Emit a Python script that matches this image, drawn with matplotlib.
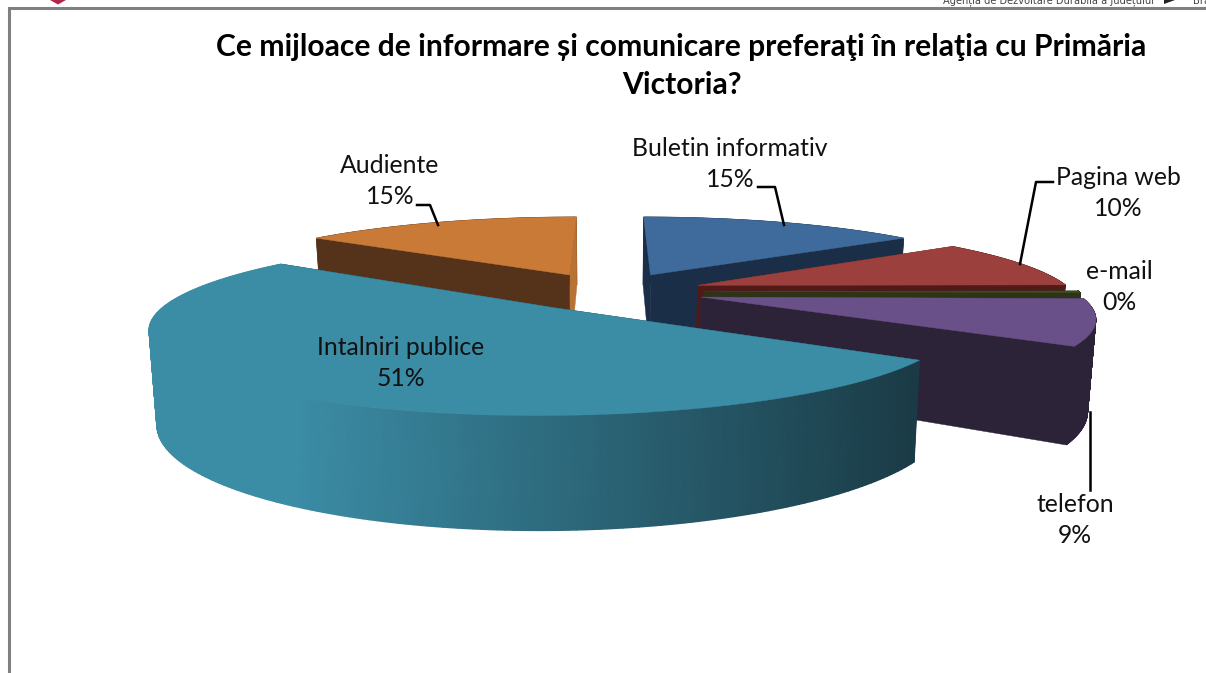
import numpy as np
import matplotlib
matplotlib.use('Agg')
import matplotlib.pyplot as plt
from matplotlib.colors import LinearSegmentedColormap

plt.rcParams['font.family'] = ['Lato', 'DejaVu Sans']

title = 'Ce mijloace de informare și comunicare preferaţi în relaţia cu Primăria\nVictoria?'
categories = ['Buletin informativ', 'Pagina web', 'e-mail', 'telefon', 'Intalniri publice', 'Audiente']
values = [15, 10, 0.4, 9, 51, 15]

top_colors = ['#3F6B9C', '#9C403E', '#3F4A22', '#6A5088', '#3B8CA5', '#C97A37']
wall_colors = ['#1B2E47', '#501A18', '#2C3316', '#2D2339', '#1B3B46', '#55331A']
end_wall_colors = ['#1B2E47', '#501A18', '#2C3316', '#2D2339', '#1B3B46', '#B87233']

# label centres in pixels
label_pos = [(730, 164), (1118, 193), (1119, 287), (1075, 520), (401, 363), (390, 181)]

# perspective of the 3d pie, fitted on the picture
vanish_x = 610
horizon_y = -68
plane_h = 1685
plane_d = 4.69
scale_x = 1.043
explode = 0.25
wall_h = 0.238
wall_shrink = 0.983


def project(px, py, bottom=False):
    w = plane_h / (plane_d + py)
    x = vanish_x + scale_x * px * w
    y = horizon_y + w
    if bottom:
        x = vanish_x + (x - vanish_x) * wall_shrink
        y = y + wall_h * w
    return x, y


fig = plt.figure(figsize=(12.06, 6.73), dpi=100)
ax = fig.add_axes([0, 0, 1, 1])

teal_map = LinearSegmentedColormap.from_list('teal_side', [(0, '#3B8CA5'), (0.19, '#3B8CA5'), (1, '#1A3A45')])

# frame of the page and what is left of its header
ax.plot([8.5, 8.5, 1206], [673, 7.5, 7.5], color='#808080', lw=2.2, solid_joinstyle='miter')
ax.fill([50, 66, 58], [0, 0, 4.5], color='#B5234B', lw=0)
ax.text(943, 3.5, 'Agenția de Dezvoltare Durabilă a Județului', family=['Liberation Sans Narrow', 'DejaVu Sans'],
        fontsize=7.1, color='#444444', va='baseline', ha='left')
ax.fill([1164, 1175, 1164], [0, 0, 4], color='#222222', lw=0)
ax.text(1193, 3.5, 'Bra', family=['Liberation Sans Narrow', 'DejaVu Sans'], fontsize=7.1,
        color='#444444', va='baseline', ha='left')

# slices
fractions = np.array(values) / np.sum(values)
stops = np.concatenate([[0], np.cumsum(fractions)]) * 2 * np.pi
slices = []
for i in range(len(values)):
    mid = (stops[i] + stops[i + 1]) / 2
    slices.append((i, explode * np.sin(mid), explode * np.cos(mid)))
slices.sort(key=lambda s: -s[2])

for i, ox, oy in slices:
    t = np.linspace(stops[i], stops[i + 1], 200)
    rim_x = ox + np.sin(t)
    rim_y = oy + np.cos(t)
    top_x, top_y = project(rim_x, rim_y)
    bot_x, bot_y = project(rim_x, rim_y, bottom=True)
    ax_top, ay_top = project(ox, oy)
    ax_bot, ay_bot = project(ox, oy, bottom=True)

    walls = [
        (np.mean([ay_top, top_y[0]]), 'start'),
        (np.mean([ay_top, top_y[-1]]), 'end'),
        (np.mean(top_y), 'arc'),
    ]
    walls.sort(key=lambda w: w[0])
    for _, kind in walls:
        if kind == 'start':
            ax.fill([ax_top, top_x[0], bot_x[0], ax_bot], [ay_top, top_y[0], bot_y[0], ay_bot],
                    color=wall_colors[i], lw=0.3)
        elif kind == 'end':
            ax.fill([ax_top, top_x[-1], bot_x[-1], ax_bot], [ay_top, top_y[-1], bot_y[-1], ay_bot],
                    color=end_wall_colors[i], lw=0.3)
        elif categories[i] == 'Intalniri publice':
            # gradient along the big slice's side
            mesh_x = np.vstack([top_x, bot_x])
            mesh_y = np.vstack([top_y, bot_y])
            ax.pcolormesh(mesh_x, mesh_y, mesh_x, cmap=teal_map, vmin=150, vmax=925, shading='gouraud')
        else:
            for j in range(len(t) - 1):
                ax.fill([top_x[j], top_x[j + 1], bot_x[j + 1], bot_x[j]],
                        [top_y[j], top_y[j + 1], bot_y[j + 1], bot_y[j]], color=wall_colors[i], lw=0.5)
    ax.fill(np.r_[ax_top, top_x], np.r_[ay_top, top_y], color=top_colors[i], lw=0.3)

# leader lines
ax.plot([417, 430, 438], [205, 205, 225], color='black', lw=1.8)
ax.plot([758, 775, 784], [187, 187, 225], color='black', lw=1.8)
ax.plot([1053, 1036, 1020], [182, 182, 264], color='black', lw=1.8)
ax.plot([1090, 1090], [412, 490], color='black', lw=1.8)

for name, v, (lx, ly) in zip(categories, values, label_pos):
    ax.text(lx, ly, f'{name}\n{round(v)}%', ha='center', va='center', fontsize=17.8,
            color='#111111', linespacing=1.46, zorder=5)

ax.text(681.5, 66, title, ha='center', va='center', fontsize=21.6, fontweight='bold',
        color='black', linespacing=1.43, zorder=5)

ax.set_xlim(0, 1206)
ax.set_ylim(673, 0)
ax.axis('off')

fig.savefig('out.png', dpi=100)
